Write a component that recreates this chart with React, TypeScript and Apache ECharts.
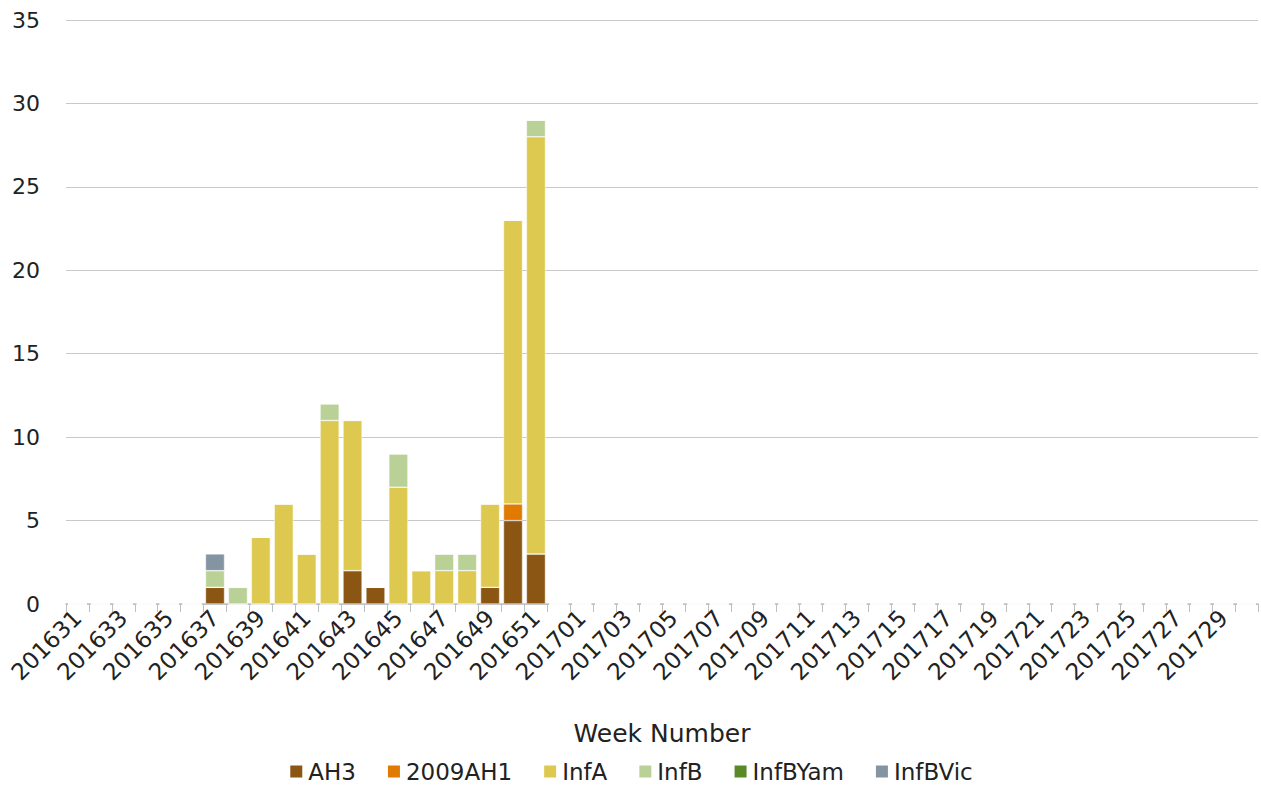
import React, { useEffect, useRef } from "react";
import * as echarts from "echarts";

const weeks: string[] = [
  "201631","201632","201633","201634","201635","201636","201637","201638","201639","201640",
  "201641","201642","201643","201644","201645","201646","201647","201648","201649","201650",
  "201651","201652",
  "201701","201702","201703","201704","201705","201706","201707","201708","201709","201710",
  "201711","201712","201713","201714","201715","201716","201717","201718","201719","201720",
  "201721","201722","201723","201724","201725","201726","201727","201728","201729","201730",
];

const pad = (arr: number[]) => arr.concat(new Array(weeks.length - arr.length).fill(0));

const ah3 = pad([0,0,0,0,0,0,1,0,0,0,0,0,2,1,0,0,0,0,1,5,3]);
const h1n1 = pad([0,0,0,0,0,0,0,0,0,0,0,0,0,0,0,0,0,0,0,1,0]);
const infA = pad([0,0,0,0,0,0,0,0,4,6,3,11,9,0,7,2,2,2,5,17,25]);
const infB = pad([0,0,0,0,0,0,1,1,0,0,0,1,0,0,2,0,1,1,0,0,1]);
const infBYam = pad([]);
const infBVic = pad([0,0,0,0,0,0,1]);

const seriesNames = ["AH3", "2009AH1", "InfA", "InfB", "InfBYam", "InfBVic"];
const seriesData = [ah3, h1n1, infA, infB, infBYam, infBVic];
const colors = ["#8B5513", "#E07A00", "#DDC94F", "#B9D197", "#5A8A25", "#8494A0"];

const FONT = "DejaVu Sans";

export default function App() {
  const ref = useRef<HTMLDivElement>(null);
  useEffect(() => {
    if (!ref.current) return;
    const chart = echarts.init(ref.current, undefined, { renderer: "svg" });
    chart.setOption({
      animation: false,
      textStyle: { fontFamily: FONT },
      color: colors,
      grid: { left: 66, right: 3, top: 20, bottom: 184, containLabel: false },
      legend: {
        bottom: 0,
        left: "center",
        itemWidth: 14,
        itemHeight: 14,
        itemGap: 30,
        icon: "rect",
        textStyle: { fontSize: 23, color: "#222", fontFamily: FONT },
        data: seriesNames,
      },
      xAxis: {
        type: "category",
        data: weeks,
        name: "Week Number",
        nameLocation: "middle",
        nameGap: 117,
        nameTextStyle: { fontSize: 25, color: "#222", fontFamily: FONT },
        axisLine: { lineStyle: { color: "#bfbfbf", width: 1.5 } },
        axisTick: { show: true, length: 8, lineStyle: { color: "#bfbfbf" }, alignWithLabel: false, interval: 0 },
        axisLabel: { interval: 1, rotate: 45, fontSize: 23, color: "#222", margin: 10, fontFamily: FONT },
      },
      yAxis: {
        type: "value",
        min: 0,
        max: 35,
        interval: 5,
        axisLine: { show: false },
        axisTick: { show: false },
        axisLabel: { fontSize: 22, color: "#222", margin: 26, fontFamily: FONT },
        splitLine: { lineStyle: { color: "#c8c8c8", width: 1 } },
      },
      series: seriesNames.map((n, i) => ({
        name: n,
        type: "bar",
        stack: "total",
        data: seriesData[i],
        barCategoryGap: "17%",
        itemStyle: { color: colors[i], borderColor: "#ffffff", borderWidth: 0.5 },
      })),
    });
    return () => chart.dispose();
  }, []);
  return (
    <div
      ref={ref}
      style={{ position: "fixed", left: 0, top: 0, width: 1261, height: 788, background: "#fff" }}
    />
  );
}
